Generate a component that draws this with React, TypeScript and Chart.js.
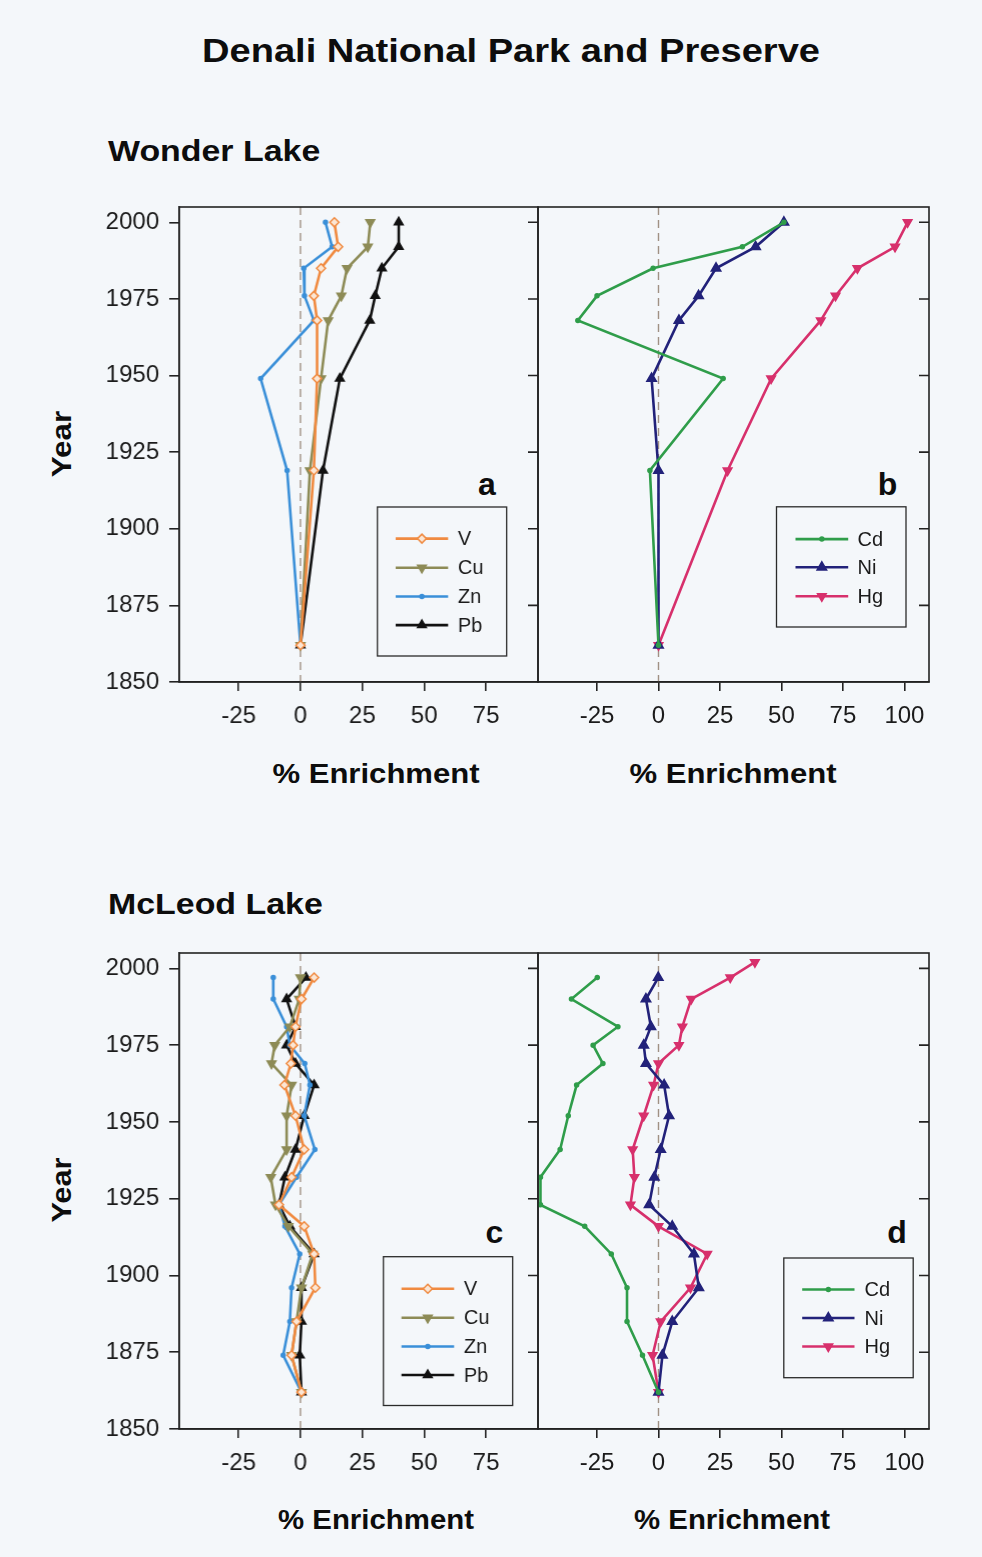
import React, { useEffect, useRef } from 'react';
import { Chart, registerables } from 'chart.js';
import { drawPoint } from 'chart.js/helpers';

Chart.register(...registerables);

// ---------- data ----------
const yearTicks = [1850, 1875, 1900, 1925, 1950, 1975, 2000];
const xTicksLeft = [-25, 0, 25, 50, 75];
const xTicksRight = [-25, 0, 25, 50, 75, 100];

// Wonder Lake core (panels a, b)
const wonderYears = [2000, 1992, 1985, 1976, 1968, 1949, 1919, 1862];
const wonderV = [13.7, 15.2, 8.3, 5.4, 6.7, 6.7, 5.4, 0];
const wonderCu = [28.2, 27.2, 18.8, 16.5, 11.2, 8.3, 3.8, 0];
const wonderZn = [10.1, 12.8, 1.3, 1.6, 5.4, -16.1, -5.4, 0];
const wonderPb = [39.7, 39.7, 32.9, 30.2, 28.0, 15.9, 9.1, 0];
const wonderCd = [51.0, 34.1, -2.2, -25.0, -32.8, 26.3, -3.5, 0];
const wonderNi = [51.0, 39.5, 23.4, 16.3, 8.3, -2.8, 0, 0];
const wonderHg = [101.3, 96.2, 80.9, 72.0, 66.0, 45.8, 28.1, 0];

// McLeod Lake core (panels c, d)
const mcleodYears = [1997, 1990, 1981, 1975, 1969, 1962, 1952, 1941, 1932, 1923, 1916, 1907, 1896, 1885, 1874, 1862];
const mcleodV = [5.5, 0.4, -2.0, -3.0, -3.9, -6.5, -2.0, 1.5, -3.6, -8.7, 1.5, 5.5, 6.0, -1.6, -3.6, 0.4];
const mcleodCu = [0, -0.5, -4.3, -10.4, -11.7, -3.6, -5.6, -5.6, -12.0, -10.1, -4.9, 4.9, 0.4, -1.6, -3.6, 0.4];
const mcleodZn = [-11.0, -11.0, -5.6, -4.3, 1.7, 3.8, 1.5, 5.8, -1.6, -8.7, -6.3, -0.3, -3.6, -4.3, -7.0, 0.4];
const mcleodPb = [2.2, -5.6, -2.0, -5.6, -2.0, 5.5, 1.5, -2.0, -6.3, -8.7, -4.3, 5.5, 0.4, 0.4, -0.3, 0.4];
const mcleodCd = [-24.9, -35.4, -16.5, -26.6, -22.6, -33.3, -36.7, -40.0, -48.0, -48.0, -30.0, -19.2, -12.8, -12.8, -6.5, 0];
const mcleodNi = [-0.1, -5.1, -3.1, -6.0, -5.1, 2.3, 4.3, 0.9, -1.7, -3.8, 5.6, 14.4, 16.4, 5.6, 1.6, 0];
const mcleodHgYears = [2002, 1997, 1990, 1981, 1975, 1969, 1962, 1952, 1941, 1932, 1923, 1916, 1907, 1896, 1885, 1874, 1862];
const mcleodHg = [39.2, 29.2, 13.3, 9.7, 8.3, 0, -2.0, -6.0, -10.5, -9.8, -11.4, 0, 19.8, 13.0, 0.9, -2.4, 0];

// ---------- styles ----------
const FONT = "'Liberation Sans', Arial, Helvetica, sans-serif";
const BG = '#f4f7fa';
const INK = '#1b1b1b';

type SeriesStyle = { color: string; fill: string; pointStyle: string; radius: number; rotation: number };
const STYLE: Record<string, SeriesStyle> = {
  V: { color: '#f08a40', fill: '#fbe6d4', pointStyle: 'rectRot', radius: 4.5, rotation: 0 },
  Cu: { color: '#8d8b56', fill: '#8d8b56', pointStyle: 'triangle', radius: 5, rotation: 180 },
  Zn: { color: '#3a8fd8', fill: '#3a8fd8', pointStyle: 'circle', radius: 2, rotation: 0 },
  Pb: { color: '#111111', fill: '#111111', pointStyle: 'triangle', radius: 5, rotation: 0 },
  Cd: { color: '#2f9d4a', fill: '#2f9d4a', pointStyle: 'circle', radius: 2, rotation: 0 },
  Ni: { color: '#22227a', fill: '#22227a', pointStyle: 'triangle', radius: 5.5, rotation: 0 },
  Hg: { color: '#d7306c', fill: '#d7306c', pointStyle: 'triangle', radius: 5, rotation: 180 },
};

type Area = { l: number; t: number; r: number; b: number };
type LegendBox = { l: number; t: number; r: number; b: number; x1: number; x2: number; tx: number; rows: number[] };
type PanelDef = {
  key: string;
  area: Area;
  xMin: number;
  xMax: number;
  xTicks: number[];
  yLabels: boolean;
  series: [string, number[], number[]][];
  legend: LegendBox;
};

const PANELS: PanelDef[] = [
  {
    key: 'a', area: { l: 179, t: 206.7, r: 537.5, b: 681.7 }, xMin: -49, xMax: 96, xTicks: xTicksLeft, yLabels: true,
    series: [['V', wonderYears, wonderV], ['Cu', wonderYears, wonderCu], ['Zn', wonderYears, wonderZn], ['Pb', wonderYears, wonderPb]],
    legend: { l: 376.7, t: 506.7, r: 505.7, b: 655.7, x1: 395, x2: 447.3, tx: 457, rows: [538.3, 567.5, 596.2, 624.8] },
  },
  {
    key: 'b', area: { l: 537.5, t: 206.7, r: 929, b: 681.7 }, xMin: -49, xMax: 110, xTicks: xTicksRight, yLabels: false,
    series: [['Cd', wonderYears, wonderCd], ['Ni', wonderYears, wonderNi], ['Hg', wonderYears, wonderHg]],
    legend: { l: 776, t: 506.5, r: 905.5, b: 626.7, x1: 795, x2: 847.7, tx: 857, rows: [538.8, 567, 596] },
  },
  {
    key: 'c', area: { l: 179, t: 953, r: 537.5, b: 1429 }, xMin: -49, xMax: 96, xTicks: xTicksLeft, yLabels: true,
    series: [['V', mcleodYears, mcleodV], ['Cu', mcleodYears, mcleodCu], ['Zn', mcleodYears, mcleodZn], ['Pb', mcleodYears, mcleodPb]],
    legend: { l: 382.7, t: 1256.7, r: 511.7, b: 1405.5, x1: 400.7, x2: 453.3, tx: 463, rows: [1288.8, 1317.8, 1346.5, 1375] },
  },
  {
    key: 'd', area: { l: 537.5, t: 953, r: 929, b: 1429 }, xMin: -49, xMax: 110, xTicks: xTicksRight, yLabels: false,
    series: [['Cd', mcleodYears, mcleodCd], ['Ni', mcleodYears, mcleodNi], ['Hg', mcleodHgYears, mcleodHg]],
    legend: { l: 783.3, t: 1258, r: 912.7, b: 1377.7, x1: 801.7, x2: 854, tx: 864, rows: [1289.5, 1318, 1346.5] },
  },
];

const Y_AXIS_W = 120;
const X_AXIS_H = 56;
const PAD = 12;

function canvasRect(p: PanelDef) {
  const x0 = p.yLabels ? p.area.l - Y_AXIS_W : p.area.l - PAD;
  const y0 = p.area.t - PAD;
  const x1 = p.area.r + PAD;
  const y1 = p.area.b + X_AXIS_H;
  return { x: x0, y: y0, w: x1 - x0, h: y1 - y0 };
}

const framePlugin = {
  id: 'frame',
  beforeDatasetsDraw(chart: any) {
    const { ctx, chartArea } = chart;
    const x0 = chart.scales.x.getPixelForValue(0);
    ctx.save();
    ctx.strokeStyle = '#a09184';
    ctx.lineWidth = 1.4;
    ctx.setLineDash([8, 5]);
    ctx.beginPath();
    ctx.moveTo(x0, chartArea.top);
    ctx.lineTo(x0, chartArea.bottom);
    ctx.stroke();
    ctx.restore();
  },
  afterDatasetsDraw(chart: any, _args: any, opts: any) {
    const { ctx, chartArea } = chart;
    const ys = chart.scales.y;
    ctx.save();
    ctx.strokeStyle = '#222';
    ctx.lineWidth = 1.6;
    ctx.setLineDash([]);
    ctx.strokeRect(chartArea.left, chartArea.top, chartArea.right - chartArea.left, chartArea.bottom - chartArea.top);
    // inward ticks on the right edge
    ctx.beginPath();
    yearTicks.forEach((yr) => {
      if (yr === 1850) return;
      const py = ys.getPixelForValue(yr);
      ctx.moveTo(chartArea.right - 10, py);
      ctx.lineTo(chartArea.right, py);
    });
    ctx.stroke();

    // legend box
    const lg: LegendBox = opts.legend;
    const ox = opts.ox, oy = opts.oy;
    ctx.fillStyle = BG;
    ctx.fillRect(lg.l - ox, lg.t - oy, lg.r - lg.l, lg.b - lg.t);
    ctx.strokeStyle = '#2a2a2a';
    ctx.lineWidth = 1.3;
    ctx.strokeRect(lg.l - ox, lg.t - oy, lg.r - lg.l, lg.b - lg.t);
    const names: string[] = opts.names;
    names.forEach((name, i) => {
      const st = STYLE[name];
      const y = lg.rows[i] - oy;
      ctx.strokeStyle = st.color;
      ctx.lineWidth = 2.6;
      ctx.beginPath();
      ctx.moveTo(lg.x1 - ox, y);
      ctx.lineTo(lg.x2 - ox, y);
      ctx.stroke();
      ctx.fillStyle = st.fill;
      ctx.strokeStyle = st.color;
      ctx.lineWidth = 1.5;
      drawPoint(ctx, { pointStyle: st.pointStyle as any, rotation: st.rotation, radius: st.radius, borderWidth: 1.5 }, (lg.x1 + lg.x2) / 2 - ox, y);
      ctx.fillStyle = INK;
      ctx.font = `20px ${FONT}`;
      ctx.textBaseline = 'middle';
      ctx.textAlign = 'left';
      ctx.fillText(name, lg.tx - ox, y + 1);
    });
    ctx.restore();
  },
};

function Panel({ p }: { p: PanelDef }) {
  const ref = useRef<HTMLCanvasElement | null>(null);
  const rect = canvasRect(p);
  useEffect(() => {
    if (!ref.current) return;
    const datasets = p.series.map(([name, years, vals]) => {
      const st = STYLE[name];
      return {
        label: name,
        data: vals.map((v, i) => ({ x: v, y: years[i] })),
        showLine: true,
        borderColor: st.color,
        backgroundColor: st.fill,
        borderWidth: 2.6,
        pointStyle: st.pointStyle as any,
        pointRadius: st.radius,
        pointRotation: st.rotation,
        pointBorderColor: st.color,
        pointBackgroundColor: st.fill,
        pointBorderWidth: 1.5,
        tension: 0,
      };
    });
    const tickFont = { family: FONT, size: 24 };
    const chart = new Chart(ref.current, {
      type: 'scatter',
      data: { datasets },
      options: {
        animation: false,
        responsive: false,
        maintainAspectRatio: false,
        devicePixelRatio: 1,
        events: [],
        layout: { padding: { left: p.yLabels ? 0 : PAD, top: PAD, right: PAD, bottom: 0 } },
        plugins: {
          legend: { display: false },
          tooltip: { enabled: false },
          frame: { legend: p.legend, ox: rect.x, oy: rect.y, names: p.series.map((s) => s[0]) },
        } as any,
        scales: {
          x: {
            type: 'linear',
            min: p.xMin,
            max: p.xMax,
            afterBuildTicks: (s: any) => { s.ticks = p.xTicks.map((v) => ({ value: v })); },
            afterFit: (s: any) => { s.height = X_AXIS_H; s.paddingLeft = 0; s.paddingRight = 0; },
            grid: { drawOnChartArea: false, drawTicks: true, tickLength: 9, color: '#222', lineWidth: 1.6 },
            border: { display: true, color: '#222', width: 1.6 },
            ticks: { font: tickFont, color: INK, padding: 11, maxRotation: 0, autoSkip: false, callback: (v: any) => String(v) },
          },
          y: {
            type: 'linear',
            display: p.yLabels,
            min: 1850,
            max: 2005,
            afterBuildTicks: (s: any) => { s.ticks = yearTicks.map((v) => ({ value: v })); },
            afterFit: (s: any) => {
              s.width = p.yLabels ? Y_AXIS_W : 0;
              s.paddingTop = 0;
              s.paddingBottom = 0;
            },
            grid: { drawOnChartArea: false, drawTicks: true, tickLength: 10, color: '#222', lineWidth: 1.6 },
            border: { display: true, color: '#222', width: 1.6 },
            ticks: { font: tickFont, color: INK, padding: 10, autoSkip: false, callback: (v: any) => String(v) },
          },
        },
      } as any,
      plugins: [framePlugin],
    });
    return () => chart.destroy();
  }, []);
  return (
    <canvas
      ref={ref}
      width={rect.w}
      height={rect.h}
      style={{ position: 'absolute', left: rect.x, top: rect.y, width: rect.w, height: rect.h }}
    />
  );
}

type TextDef = { text: string; x: number; y: number; size: number; bold?: boolean; sx?: number; rotate?: boolean; align?: 'left' | 'center' };
const TEXTS: TextDef[] = [
  { text: 'Denali National Park and Preserve', x: 511, y: 50, size: 34, bold: true, sx: 1.12 },
  { text: 'Wonder Lake', x: 108, y: 151, size: 30, bold: true, sx: 1.13, align: 'left' },
  { text: 'McLeod Lake', x: 108, y: 904, size: 30, bold: true, sx: 1.13, align: 'left' },
  { text: 'Year', x: 62, y: 444, size: 28, bold: true, sx: 1.12, rotate: true },
  { text: 'Year', x: 62, y: 1190, size: 28, bold: true, sx: 1.1, rotate: true },
  { text: '% Enrichment', x: 376, y: 774, size: 28, bold: true, sx: 1.11 },
  { text: '% Enrichment', x: 733, y: 774, size: 28, bold: true, sx: 1.11 },
  { text: '% Enrichment', x: 375.5, y: 1520, size: 28, bold: true, sx: 1.05 },
  { text: '% Enrichment', x: 732, y: 1520, size: 28, bold: true, sx: 1.05 },
  { text: 'a', x: 487, y: 484, size: 32, bold: true },
  { text: 'b', x: 887.5, y: 484, size: 32, bold: true },
  { text: 'c', x: 494.5, y: 1232, size: 32, bold: true },
  { text: 'd', x: 897, y: 1232, size: 32, bold: true },
];

function Label({ t }: { t: TextDef }) {
  const sx = t.sx ?? 1;
  const left = t.align === 'left';
  const transform = left
    ? `translate(0,-50%) scaleX(${sx})`
    : t.rotate
      ? `translate(-50%,-50%) rotate(-90deg) scaleX(${sx})`
      : `translate(-50%,-50%) scaleX(${sx})`;
  return (
    <div
      style={{
        position: 'absolute',
        left: t.x,
        top: t.y,
        transform,
        transformOrigin: left ? 'left center' : 'center center',
        fontFamily: FONT,
        fontWeight: t.bold ? 700 : 400,
        fontSize: t.size,
        lineHeight: 1,
        color: '#0d0d0d',
        whiteSpace: 'nowrap',
      }}
    >
      {t.text}
    </div>
  );
}

export default function App() {
  return (
    <div style={{ position: 'absolute', left: 0, top: 0, width: 982, height: 1557, background: BG, overflow: 'hidden' }}>
      {TEXTS.map((t, i) => <Label key={i} t={t} />)}
      {PANELS.map((p) => <Panel key={p.key} p={p} />)}
    </div>
  );
}
